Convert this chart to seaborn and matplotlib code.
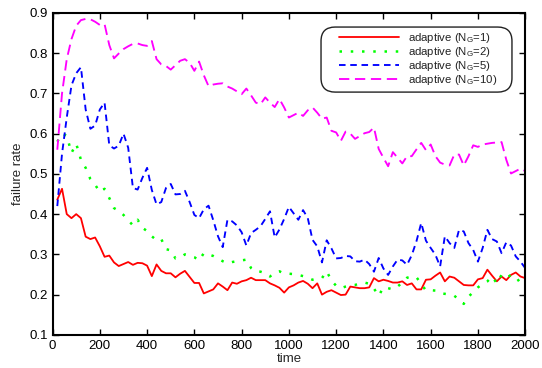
import numpy as np
import pandas as pd
import matplotlib
matplotlib.use("Agg")
import matplotlib.pyplot as plt
from matplotlib.patches import FancyBboxPatch
import seaborn as sns

# time grid (one sample every 20 steps)
time = np.arange(20, 2001, 20)

ng1 = [0.436, 0.463, 0.400, 0.390, 0.400, 0.390, 0.344, 0.338, 0.342, 0.320,
       0.294, 0.297, 0.280, 0.271, 0.276, 0.281, 0.274, 0.279, 0.278, 0.272,
       0.246, 0.275, 0.259, 0.253, 0.253, 0.243, 0.252, 0.259, 0.244, 0.229,
       0.229, 0.203, 0.208, 0.213, 0.228, 0.220, 0.211, 0.230, 0.227, 0.233,
       0.236, 0.242, 0.236, 0.236, 0.236, 0.228, 0.223, 0.217, 0.205, 0.218,
       0.223, 0.230, 0.234, 0.227, 0.216, 0.228, 0.200, 0.207, 0.211, 0.205,
       0.199, 0.200, 0.220, 0.218, 0.216, 0.216, 0.218, 0.241, 0.233, 0.237,
       0.234, 0.230, 0.230, 0.233, 0.224, 0.228, 0.213, 0.213, 0.237, 0.238,
       0.247, 0.255, 0.233, 0.245, 0.242, 0.233, 0.224, 0.223, 0.223, 0.238,
       0.241, 0.262, 0.247, 0.233, 0.245, 0.236, 0.249, 0.255, 0.245, 0.241]

ng2 = [0.580, 0.600, 0.595, 0.552, 0.575, 0.535, 0.515, 0.487, 0.473, 0.455,
       0.463, 0.440, 0.415, 0.408, 0.398, 0.385, 0.372, 0.386, 0.366, 0.358,
       0.345, 0.335, 0.338, 0.313, 0.310, 0.290, 0.292, 0.300, 0.297, 0.293,
       0.285, 0.303, 0.300, 0.296, 0.290, 0.283, 0.278, 0.281, 0.283, 0.285,
       0.287, 0.266, 0.257, 0.257, 0.253, 0.245, 0.255, 0.258, 0.252, 0.252,
       0.251, 0.249, 0.246, 0.242, 0.237, 0.238, 0.241, 0.258, 0.235, 0.222,
       0.216, 0.220, 0.223, 0.224, 0.228, 0.230, 0.227, 0.215, 0.197, 0.218,
       0.216, 0.213, 0.220, 0.230, 0.242, 0.245, 0.243, 0.227, 0.210, 0.211,
       0.210, 0.203, 0.202, 0.200, 0.197, 0.188, 0.177, 0.195, 0.206, 0.218,
       0.227, 0.233, 0.245, 0.228, 0.249, 0.241, 0.249, 0.245, 0.228, 0.225]

ng5 = [0.420, 0.550, 0.640, 0.720, 0.750, 0.765, 0.660, 0.612, 0.620, 0.660,
       0.677, 0.571, 0.563, 0.570, 0.600, 0.565, 0.465, 0.461, 0.490, 0.515,
       0.460, 0.424, 0.430, 0.465, 0.475, 0.449, 0.450, 0.458, 0.430, 0.398,
       0.390, 0.412, 0.421, 0.385, 0.345, 0.318, 0.386, 0.382, 0.372, 0.355,
       0.322, 0.353, 0.361, 0.370, 0.388, 0.407, 0.342, 0.362, 0.388, 0.418,
       0.402, 0.386, 0.410, 0.390, 0.336, 0.320, 0.280, 0.335, 0.315, 0.290,
       0.291, 0.296, 0.295, 0.283, 0.282, 0.287, 0.276, 0.257, 0.291, 0.265,
       0.249, 0.270, 0.287, 0.285, 0.274, 0.298, 0.333, 0.378, 0.334, 0.316,
       0.299, 0.270, 0.345, 0.328, 0.316, 0.361, 0.357, 0.328, 0.311, 0.282,
       0.316, 0.361, 0.338, 0.332, 0.303, 0.330, 0.322, 0.295, 0.282, 0.266]

ng10 = [0.560, 0.700, 0.785, 0.835, 0.868, 0.882, 0.885, 0.884, 0.878, 0.870,
        0.872, 0.820, 0.787, 0.799, 0.810, 0.817, 0.823, 0.824, 0.820, 0.818,
        0.830, 0.785, 0.772, 0.768, 0.759, 0.770, 0.781, 0.785, 0.776, 0.756,
        0.779, 0.745, 0.718, 0.722, 0.724, 0.725, 0.717, 0.712, 0.705, 0.698,
        0.712, 0.695, 0.677, 0.673, 0.690, 0.677, 0.666, 0.686, 0.665, 0.640,
        0.646, 0.652, 0.644, 0.658, 0.665, 0.652, 0.637, 0.640, 0.607, 0.603,
        0.582, 0.605, 0.600, 0.587, 0.594, 0.601, 0.604, 0.615, 0.562, 0.540,
        0.519, 0.554, 0.540, 0.526, 0.544, 0.544, 0.561, 0.577, 0.559, 0.573,
        0.544, 0.528, 0.523, 0.521, 0.548, 0.548, 0.521, 0.544, 0.571, 0.567,
        0.573, 0.575, 0.577, 0.578, 0.579, 0.535, 0.501, 0.507, 0.513, 0.507]

labels = ["adaptive (N$_{\\rm G}$=1)", "adaptive (N$_{\\rm G}$=2)",
          "adaptive (N$_{\\rm G}$=5)", "adaptive (N$_{\\rm G}$=10)"]
colors = ["#ff0000", "#00ff00", "#0000ff", "#ff00ff"]
styles = ["-", (0, (1, 3.5)), (0, (3.5, 2.5)), (0, (5.5, 3))]
widths = [1.3, 1.8, 1.35, 1.35]

sns.set_style("ticks")
plt.rcParams["font.family"] = ["Liberation Sans", "DejaVu Sans"]
plt.rcParams["mathtext.fontset"] = "custom"
plt.rcParams["mathtext.rm"] = "Liberation Sans"
plt.rcParams["xtick.direction"] = "in"
plt.rcParams["ytick.direction"] = "in"

fig = plt.figure(figsize=(5.42, 3.68), dpi=100)
ax = fig.add_axes([0.097, 0.090, 0.872, 0.875])

for vals, lab, col, ls, lw in zip([ng1, ng2, ng5, ng10], labels, colors, styles, widths):
    df = pd.DataFrame({"time": time, "rate": vals})
    sns.lineplot(data=df, x="time", y="rate", ax=ax, color=col, label=lab,
                 linestyle=ls, linewidth=lw)

ax.set_xlim(0, 2000)
ax.set_ylim(0.1, 0.9)
ax.set_xticks(np.arange(0, 2001, 200))
ax.set_yticks(np.arange(0.1, 0.91, 0.1))
ax.set_yticklabels([f"{v:.1f}" for v in np.arange(0.1, 0.91, 0.1)])
ax.tick_params(which="both", top=True, right=True, length=4, width=1,
               labelsize=9.5, colors="black")
for s in ax.spines.values():
    s.set_linewidth(1.5)
    s.set_color("black")
ax.set_xlabel("time", fontsize=9.5, labelpad=1)
ax.set_ylabel("failure rate", fontsize=9.5, labelpad=4)

# legend entries without frame, rounded box drawn separately (MATLAB look)
leg = ax.legend(loc="upper left", bbox_to_anchor=(0.606, 0.945), fontsize=8.2,
                frameon=False, handlelength=5.3, borderpad=0,
                borderaxespad=0, labelspacing=0.02, handletextpad=0.8)
for t in leg.get_texts():
    t.set_color("#222222")
box = FancyBboxPatch((0.568, 0.754), 0.404, 0.202,
                     boxstyle="round,pad=0,rounding_size=0.03",
                     transform=ax.transAxes, facecolor="white",
                     edgecolor="#222222", linewidth=1.0, zorder=4,
                     mutation_aspect=1.45)
ax.add_patch(box)
leg.set_zorder(5)

fig.savefig("out.png", dpi=100)
